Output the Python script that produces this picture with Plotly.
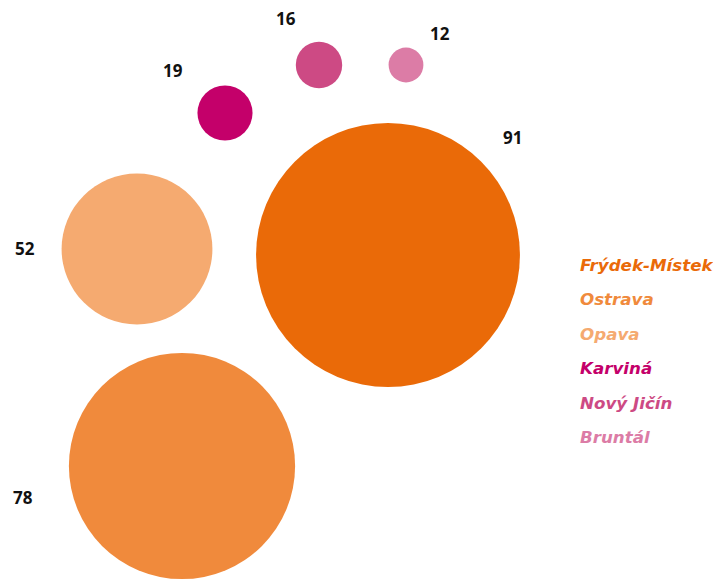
import plotly.graph_objects as go

# ---- data ----
districts = ["Frýdek-Místek", "Ostrava", "Opava", "Karviná", "Nový Jičín", "Bruntál"]
values = [91, 78, 52, 19, 16, 12]

# ---- layout (bubble placement in axis units, like a packed-bubble layout) ----
pos_x = [388, 182, 137, 225, 319, 406]
pos_y = [255, 466, 249, 113, 65, 65]
label_x = [512, 23, 25, 173, 286, 440]
label_y = [137, 497, 248, 70, 18, 33]
colors = ["#EA6A08", "#F08A3C", "#F5AA70", "#C4006A", "#CD4A84", "#DC7CA6"]

W, H = 721, 580
PAD = 8  # page body margin
px_per_unit = 2.9  # bubble diameter in px per value unit

fig = go.Figure()
fig.add_trace(go.Scatter(
    x=pos_x, y=pos_y, mode="markers",
    marker=dict(size=values, sizemode="diameter", sizeref=1 / px_per_unit,
                color=colors, opacity=1, line=dict(width=0)),
    text=districts, hoverinfo="text", showlegend=False,
    cliponaxis=False,
))

num_font = dict(family="Open Sans", size=17, color="#111111")
for v, lx, ly in zip(values, label_x, label_y):
    fig.add_annotation(x=lx, y=ly, text=f"<b>{v}</b>", showarrow=False,
                       font=num_font, xanchor="center", yanchor="middle")

leg_x = 578
leg_y0 = 265
leg_dy = 34.4
for i, (name, c) in enumerate(zip(districts, colors)):
    fig.add_annotation(x=leg_x, y=leg_y0 + i * leg_dy, text=f"<b><i>{name}</i></b>",
                       showarrow=False, xanchor="left", yanchor="middle",
                       font=dict(family="DejaVu Sans", size=16.7, color=c))

fig.update_layout(
    width=W - PAD, height=H - PAD, margin=dict(l=0, r=0, t=0, b=0),
    paper_bgcolor="white", plot_bgcolor="white",
    xaxis=dict(range=[PAD, W], visible=False, fixedrange=True),
    yaxis=dict(range=[H, PAD], visible=False, fixedrange=True),
)
fig.write_html("out.html")
